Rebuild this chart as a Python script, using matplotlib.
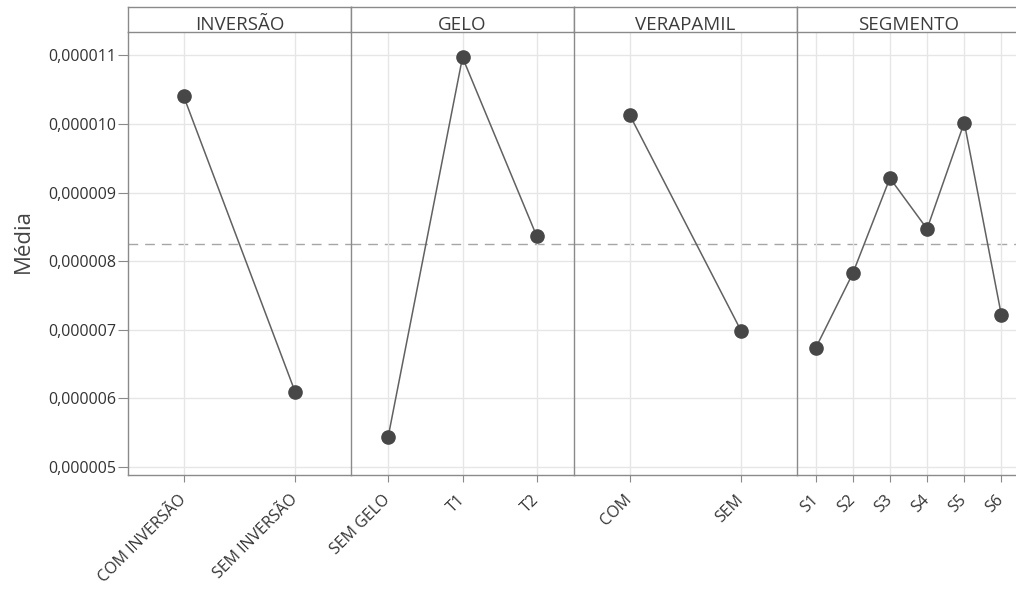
import matplotlib
matplotlib.use("Agg")
import matplotlib.pyplot as plt
from matplotlib.ticker import FuncFormatter, MultipleLocator

plt.rcParams['font.family'] = ['Open Sans', 'DejaVu Sans']

panels = ["INVERSÃO", "GELO", "VERAPAMIL", "SEGMENTO"]
cats_inversao = ["COM INVERSÃO", "SEM INVERSÃO"]
vals_inversao = [10.40e-6, 6.09e-6]
cats_gelo = ["SEM GELO", "T1", "T2"]
vals_gelo = [5.44e-6, 10.97e-6, 8.36e-6]
cats_verapamil = ["COM", "SEM"]
vals_verapamil = [10.13e-6, 6.98e-6]
cats_segmento = ["S1", "S2", "S3", "S4", "S5", "S6"]
vals_segmento = [6.73e-6, 7.82e-6, 9.21e-6, 8.47e-6, 10.02e-6, 7.21e-6]
grand_mean = 8.25e-6
ylabel = "Média"

data = [(cats_inversao, vals_inversao), (cats_gelo, vals_gelo),
        (cats_verapamil, vals_verapamil), (cats_segmento, vals_segmento)]

W, H = 1016, 590
fig = plt.figure(figsize=(W / 100, H / 100), dpi=100)

left0 = 128
pw = 223
bottom_px = 475
top_px = 32
strip_top = 7
ymin, ymax = 4.883e-6, 11.34e-6

spine_col = "#8a8a8a"
grid_col = "#e6e6e6"
text_col = "#333333"

for i, (name, (cats, vals)) in enumerate(zip(panels, data)):
    x0 = (left0 + i * pw) / W
    ax = fig.add_axes([x0, 1 - bottom_px / H, pw / W, (bottom_px - top_px) / H])
    xs = list(range(1, len(cats) + 1))
    ax.set_xlim(0.5, len(cats) + 0.5)
    ax.set_ylim(ymin, ymax)
    ax.yaxis.set_major_locator(MultipleLocator(1e-6))
    ax.grid(True, color=grid_col, linewidth=1.0, zorder=0)
    ax.axhline(grand_mean, color="#a6a6a6", linewidth=1.0, dashes=(7, 5), zorder=1)
    ax.plot(xs, vals, color="#616161", linewidth=1.1, zorder=3)
    ax.plot(xs, vals, "o", color="#474747", markersize=9.5, zorder=4)
    ax.set_xticks(xs)
    ax.set_xticklabels(cats, rotation=45, ha="right", va="center",
                       rotation_mode="anchor", fontsize=11.5, color=text_col)
    ax.tick_params(axis="x", length=5, color=spine_col, pad=11)
    for s in ["top", "right"]:
        ax.spines[s].set_visible(False)
    ax.spines["left"].set_color(spine_col)
    ax.spines["bottom"].set_color(spine_col)
    ax.spines["left"].set_linewidth(1.0)
    ax.spines["bottom"].set_linewidth(1.0)
    if i == 0:
        ax.yaxis.set_major_formatter(FuncFormatter(lambda v, p: f"{v:.6f}".replace(".", ",")))
        ax.tick_params(axis="y", length=7, color=spine_col, labelsize=11.5, labelcolor=text_col, pad=1.5)
        ax.set_ylabel(ylabel, fontsize=16, color="#444444")
        ax.yaxis.set_label_coords((23 - left0) / pw, (bottom_px - 241) / (bottom_px - top_px))
        ax.yaxis.label.set_va("center")
    else:
        ax.tick_params(axis="y", length=0, labelleft=False)
    ax.set_facecolor("white")

    sax = fig.add_axes([x0, 1 - top_px / H, pw / W, (top_px - strip_top) / H])
    sax.set_xticks([])
    sax.set_yticks([])
    for s in sax.spines.values():
        s.set_color(spine_col)
        s.set_linewidth(1.0)
    sax.spines["right"].set_visible(i < 3)
    sax.text(0.5, 0.06, name, ha="center", va="baseline", fontsize=13.5,
             color="#3c3c3c", transform=sax.transAxes)

fig.savefig("out.png", dpi=100)
